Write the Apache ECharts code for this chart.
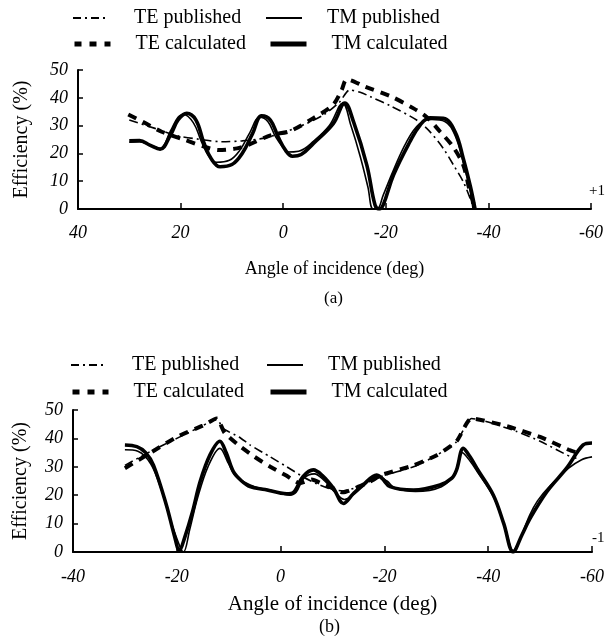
<!DOCTYPE html>
<html>
<head>
<meta charset="utf-8">
<script src="https://cdn.jsdelivr.net/npm/echarts@6/dist/echarts.min.js"></script>
<style>
  html, body { margin: 0; padding: 0; background: #fff; }
  #chart { width: 607px; height: 637px; }
</style>
</head>
<body>
<div id="chart"></div>
<script>
// x ticks of both panels
const xTicksA = [40, 20, 0, -20, -40, -60];
const xTicksB = [-40, -20, 0, 20, 40, 60];

// ---- panel (a): +1 order ----
const tePubA = [[30,32],[25,29],[21,26.5],[16,25],[12,24.2],[8,24.5],[4,25.4],[0,27.5],[-4,30.3],[-8,34],[-11,38.5],[-13,42.8],[-15,42],[-17,40.4],[-21,37],[-26,32],[-28.5,28],[-31.2,21.8],[-33.3,15.5],[-35.1,9.8],[-36.7,2.6],[-37.2,0]];
const teCalcA = [[30.2,34],[27,31],[23.7,27.8],[19.1,24.8],[15,22.2],[12.6,21.2],[9,21.8],[6.9,23],[2.3,26.6],[-1.3,28],[-5.8,32.6],[-9.7,37.4],[-11.4,42.8],[-12.4,46.6],[-16,44],[-21,40.5],[-25.4,36.2],[-28,33],[-30.6,27.8],[-33.1,22.4],[-35.1,15.8],[-36.3,7],[-37.4,0]];
const tmPubA = [[30,24],[28,24.2],[26,23],[24,21.8],[22,28],[20.5,33],[19.4,34],[17.5,31],[16,24.5],[14.5,19],[13,16.8],[10.5,17.5],[8.5,21],[6.5,27.5],[4.6,33],[3,31.5],[1.5,26],[0,22],[-0.8,20.5],[-3,20.8],[-6,24.5],[-9,30],[-11.6,38],[-13.2,30],[-15,19],[-16.5,8],[-17.5,0],[-18.3,0],[-19.5,5],[-21.5,14],[-24,24],[-26.5,30.5],[-29,32.2],[-31.5,31.5],[-33.5,26.5],[-35.2,16],[-36.5,6],[-37,0]];
const tmCalcA = [[30,24.5],[28,24.6],[26,23],[24,21.5],[22,26.5],[20.5,32],[18.8,34.4],[17,32],[15.5,24],[14,18],[12.3,15.2],[10,16],[8,20],[6,27],[4.2,33.5],[2.5,32],[1,26],[-0.5,21],[-1.8,19],[-3.5,19.6],[-5.9,23.6],[-9.8,30.8],[-12,38.1],[-13.7,31.4],[-16.3,15.8],[-17.9,1.4],[-18.7,0],[-19.5,1.5],[-21.5,12.2],[-24.7,24.2],[-26.7,30.2],[-28.6,32.8],[-31.2,32.6],[-33.5,27.8],[-35.1,18.2],[-36.5,8],[-37.4,0]];

// ---- panel (b): -1 order ----
const tePubB = [[-30,30.5],[-25,35.5],[-20,40],[-15,44.5],[-12.3,47],[-11.1,43.5],[-8,40.5],[-5.9,37.7],[-2,33.5],[1.2,30],[4.3,26.5],[7,24],[10,22],[12,21.5],[15,23],[19.2,26.5],[25.6,30],[30,34],[33.9,38.8],[36.8,47],[40,45.8],[45.5,42.4],[50,39],[55.8,33.6],[57,33]];
const teCalcB = [[-30,29.5],[-25,35],[-20,40.5],[-15,44.5],[-12.3,47],[-10.8,42],[-8,37.5],[-5,33.5],[-2,30],[1,27],[3.7,24.2],[6,25.5],[8,24],[10,22.5],[12,21],[15,23],[18,25.5],[19.2,27],[25.6,30.5],[30,34],[33.9,39],[36.8,47],[43.6,44.3],[50,40.5],[55.5,36],[57,35]];
const tmPubB = [[-30,36],[-27.5,35.5],[-25,31],[-23,22],[-21,10],[-19.2,1],[-18.7,0],[-17.5,8],[-16,19],[-14,30],[-11.7,36.5],[-10,31],[-8.5,26.5],[-5,23],[-2,21.8],[1.8,20],[3,21],[4.5,26],[6.5,27.5],[8.5,25],[10.5,21],[12.3,18.5],[14.5,21],[16.5,24.5],[18.8,26.5],[20.5,25],[22,22.5],[26,21.3],[31,23],[33.5,27.5],[35,35],[36.5,32],[38,28],[41,19.5],[43.2,9],[44.8,0.5],[46,4],[48,13],[49.5,18],[52,23.5],[55.5,29.5],[58,32.5],[60,33.5]];
const tmCalcB = [[-30,37.7],[-27.7,37.1],[-26,35],[-24.5,30.6],[-22,16.5],[-20.5,6],[-19.5,0.5],[-18.5,5],[-17,14],[-15.5,24.8],[-13.6,34.2],[-11.7,39],[-10.5,35],[-9.1,28.3],[-7.5,25],[-5.9,23],[-3,22],[1.2,20.5],[2.5,21],[4.3,26.5],[6.3,28.9],[8,27],[10.2,22.4],[12.1,17.1],[14,20.5],[15.9,23.6],[18.5,27.1],[19.5,26],[21.1,23],[25.6,21.8],[30.7,23.6],[33,26],[33.9,28.9],[35.2,36.5],[36.5,33.5],[37.8,29.5],[41,20],[43,10],[44.8,0],[46.5,6],[48.1,11.9],[51.3,21.2],[55.1,29.5],[58.3,37.7],[60,38.4]];

const FONT = 'Liberation Serif';

// line styles shared by both panels
const styles = {
  'TE published': { color: '#000', width: 1.6, type: [9, 4, 2, 4] },
  'TE calculated': { color: '#000', width: 4, type: [9, 7] },
  'TM published': { color: '#000', width: 1.6, type: 'solid' },
  'TM calculated': { color: '#000', width: 3.6, type: 'solid' }
};
// legend keys are a bit heavier than the plotted lines
const legendStyles = {
  'TE published': { color: '#000', width: 2, type: [8, 4, 2, 4] },
  'TE calculated': { color: '#000', width: 5, type: [7, 8] },
  'TM published': { color: '#000', width: 2, type: 'solid' },
  'TM calculated': { color: '#000', width: 5, type: 'solid' }
};

function mkSeries(name, data, idx, smooth) {
  return {
    name: name,
    type: 'line',
    xAxisIndex: idx,
    yAxisIndex: idx,
    data: data,
    symbol: 'none',
    showSymbol: false,
    smooth: smooth,
    silent: true,
    itemStyle: { color: '#000' },
    lineStyle: styles[name]
  };
}

function mkLegend(name, left, top) {
  return {
    data: [name],
    left: left,
    top: top,
    padding: 0,
    itemWidth: 36,
    itemHeight: 14,
    selectedMode: false,
    itemStyle: { opacity: 0 },
    lineStyle: legendStyles[name],
    textStyle: { fontFamily: FONT, fontSize: 20, color: '#000', padding: [0, 0, 0, 20] }
  };
}

function mkX(idx, min, fmt, margin, nameGap, nameSize, inverse) {
  return {
    gridIndex: idx,
    type: 'value',
    min: min,
    max: min + 100,
    interval: 20,
    inverse: inverse,
    name: 'Angle of incidence (deg)',
    nameLocation: 'middle',
    nameGap: nameGap,
    nameTextStyle: { fontFamily: FONT, fontSize: nameSize, color: '#000' },
    axisLine: { onZero: false, lineStyle: { color: '#000', width: 2 } },
    axisTick: { inside: true, length: 6, lineStyle: { color: '#000', width: 1.5 } },
    axisLabel: { formatter: fmt, margin: margin, fontFamily: FONT, fontStyle: 'italic', fontSize: 18, color: '#000' },
    splitLine: { show: false }
  };
}

function mkY(idx, nameGap) {
  return {
    gridIndex: idx,
    type: 'value',
    min: 0,
    max: 50,
    interval: 10,
    name: 'Efficiency (%)',
    nameLocation: 'middle',
    nameGap: nameGap,
    nameTextStyle: { fontFamily: FONT, fontSize: 20, color: '#000' },
    axisLine: { show: true, onZero: false, lineStyle: { color: '#000', width: 2 } },
    axisTick: { show: true, inside: true, length: 5, lineStyle: { color: '#000', width: 1.5 } },
    axisLabel: { margin: 10, fontFamily: FONT, fontStyle: 'italic', fontSize: 18, color: '#000' },
    splitLine: { show: false }
  };
}

const fmtA = (v) => String(v);
const fmtB = (v) => (v === 0 ? '0' : String(-Math.abs(v)));

const chart = echarts.init(document.getElementById('chart'));
chart.setOption({
  backgroundColor: '#fff',
  animation: false,
  legend: [
    mkLegend('TE published', 72, 8),
    mkLegend('TE calculated', 72, 34),
    mkLegend('TM published', 265, 8),
    mkLegend('TM calculated', 268, 34),
    mkLegend('TE published', 70, 355),
    mkLegend('TE calculated', 70, 382),
    mkLegend('TM published', 266, 355),
    mkLegend('TM calculated', 268, 382)
  ],
  grid: [
    { left: 78, top: 70, width: 513, height: 139 },
    { left: 73, top: 410, width: 519, height: 142 }
  ],
  xAxis: [
    mkX(0, -60, fmtA, 15, 51, 18, true),
    mkX(1, -40, fmtB, 16, 42, 21, false)
  ],
  yAxis: [mkY(0, 46), mkY(1, 42)],
  series: [
    mkSeries('TE published', tePubA, 0, 0.3),
    mkSeries('TE calculated', teCalcA, 0, 0.3),
    mkSeries('TM published', tmPubA, 0, 0.4),
    mkSeries('TM calculated', tmCalcA, 0, 0.4),
    mkSeries('TE published', tePubB, 1, 0.2),
    mkSeries('TE calculated', teCalcB, 1, 0.2),
    mkSeries('TM published', tmPubB, 1, 0.35),
    mkSeries('TM calculated', tmCalcB, 1, 0.35)
  ],
  graphic: [
    { type: 'text', left: 589, top: 184, style: { text: '+1', font: '15px "Liberation Serif"', fill: '#000' } },
    { type: 'text', left: 592, top: 531, style: { text: '-1', font: '15px "Liberation Serif"', fill: '#000' } },
    { type: 'text', left: 324, top: 290, style: { text: '(a)', font: '17px "Liberation Serif"', fill: '#000' } },
    { type: 'text', left: 319, top: 618, style: { text: '(b)', font: '18px "Liberation Serif"', fill: '#000' } }
  ]
});
</script>
</body>
</html>
